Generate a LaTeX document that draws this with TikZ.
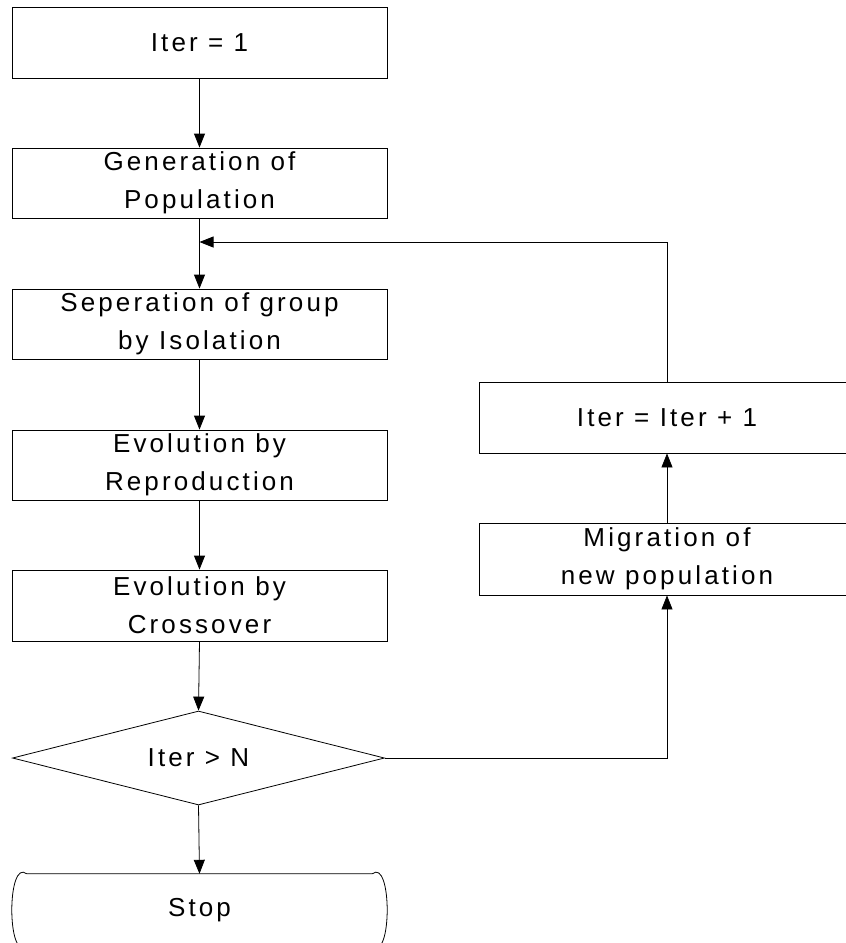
\documentclass[tikz,border=0pt]{standalone}
\usepackage{fontspec}
\setmainfont{Liberation Sans}[LetterSpace=12]
\usetikzlibrary{shapes.geometric,arrows.meta}
\begin{document}
\begin{tikzpicture}[x=1pt,y=-1pt,
  every node/.style={font=\fontsize{26}{38}\selectfont, align=center},
  proc/.style={draw, line width=0.8pt, minimum width=375pt, inner sep=0pt},
  dec/.style={draw, line width=0.8pt, shape=diamond, aspect=3.95, minimum width=372pt, minimum height=94pt, inner sep=0pt},
  arr/.style={line width=0.8pt, -{Triangle[length=14pt,width=11pt]}},
  ln/.style={line width=0.8pt}]
\useasboundingbox (0,0) rectangle (846,943);
\clip (0,0) rectangle (846,943);
\node[proc, minimum height=71pt] (b1) at (199.5,42.5) {Iter = 1};
\node[proc, minimum height=70pt] (b2) at (199.5,183) {Generation of\\Population};
\node[proc, minimum height=70pt] (b3) at (199.5,324) {Seperation of group\\by Isolation};
\node[proc, minimum height=70pt] (b4) at (199.5,465) {Evolution by\\Reproduction};
\node[proc, minimum height=71pt] (b5) at (199.5,605.5) {Evolution by\\Crossover};
\node[dec] (d) at (198.5,758) {Iter > N};
\node[minimum width=345pt, minimum height=72pt, inner sep=0pt] (stop) at (199.5,910) {Stop};
\node[proc, minimum height=71pt] (inc) at (667,417.5) {Iter = Iter + 1};
\node[proc, minimum height=72pt] (mig) at (667,559) {Migration of\\new population};
\coordinate (j) at (199.5,242);
% stop terminal outline
\draw[ln] (stop.north west) -- (stop.north east)
  .. controls ([xshift=20pt,yshift=16pt]stop.north east) and ([xshift=20pt,yshift=-16pt]stop.south east) .. (stop.south east);
\draw[ln] (stop.north west)
  .. controls ([xshift=-20pt,yshift=16pt]stop.north west) and ([xshift=-20pt,yshift=-16pt]stop.south west) .. (stop.south west);
% connectors
\draw[arr] (b1.south) -- (b2.north);
\draw[arr] (b2.south) -- (b3.north);
\draw[arr] (b3.south) -- (b4.north);
\draw[arr] (b4.south) -- (b5.north);
\draw[arr] (b5.south) -- (d.north);
\draw[arr] (d.south) -- (stop.north);
\draw[arr] (d.east) -| (mig.south);
\draw[arr] (mig.north) -- (inc.south);
\draw[arr] (inc.north) |- (j);
\end{tikzpicture}
\end{document}
